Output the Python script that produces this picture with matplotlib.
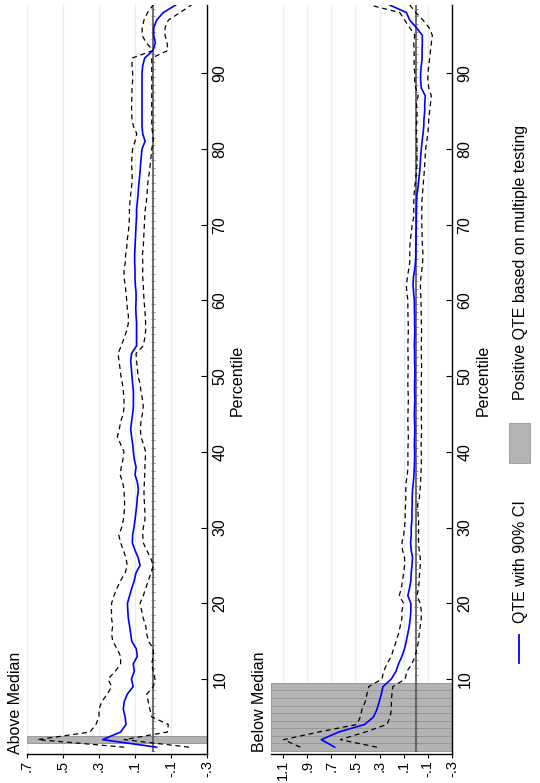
import matplotlib.pyplot as plt

plt.rcParams['font.family'] = ['Liberation Sans', 'DejaVu Sans']

# percentiles 1..99
pct = list(range(1, 100))

# Above median: QTE and 90% CI
qte_above = [-0.02, 0.28, 0.18, 0.15, 0.155, 0.165, 0.16, 0.143, 0.11, 0.12,
             0.104, 0.11, 0.087, 0.093, 0.118, 0.124, 0.13, 0.137, 0.14, 0.142,
             0.13, 0.118, 0.104, 0.095, 0.072, 0.082, 0.10, 0.115, 0.113, 0.106,
             0.10, 0.095, 0.09, 0.087, 0.081, 0.087, 0.10, 0.094, 0.104, 0.109,
             0.113, 0.119, 0.124, 0.119, 0.113, 0.109, 0.109, 0.109, 0.113, 0.117,
             0.12, 0.124, 0.119, 0.091, 0.091, 0.091, 0.091, 0.094, 0.096, 0.094,
             0.094, 0.098, 0.10, 0.10, 0.102, 0.102, 0.10, 0.098, 0.096, 0.094,
             0.091, 0.091, 0.087, 0.083, 0.080, 0.076, 0.072, 0.069, 0.065, 0.061,
             0.044, 0.057, 0.061, 0.061, 0.061, 0.061, 0.061, 0.061, 0.061, 0.061,
             0.057, 0.046, 0.0, -0.013, -0.004, -0.004, -0.02, -0.057, -0.126]
hi_above = [0.16, 0.64, 0.35, 0.317, 0.30, 0.30, 0.285, 0.254, 0.23, 0.25,
            0.21, 0.18, 0.18, 0.20, 0.224, 0.23, 0.224, 0.23, 0.231, 0.23,
            0.217, 0.20, 0.18, 0.155, 0.143, 0.15, 0.165, 0.18, 0.19, 0.174,
            0.165, 0.16, 0.158, 0.159, 0.161, 0.169, 0.183, 0.176, 0.167, 0.161,
            0.18, 0.198, 0.187, 0.18, 0.165, 0.161, 0.161, 0.165, 0.17, 0.178,
            0.183, 0.189, 0.194, 0.176, 0.161, 0.146, 0.137, 0.137, 0.143, 0.146,
            0.15, 0.154, 0.161, 0.161, 0.154, 0.152, 0.146, 0.143, 0.137, 0.133,
            0.131, 0.131, 0.128, 0.124, 0.119, 0.115, 0.117, 0.119, 0.117, 0.113,
            0.10, 0.09, 0.109, 0.117, 0.119, 0.119, 0.117, 0.117, 0.113, 0.113,
            0.117, 0.115, 0.0, 0.037, 0.061, 0.06, 0.05, 0.03, 0.0]
lo_above = [-0.2, 0.16, -0.08, -0.085, 0.007, 0.017, 0.026, 0.035, -0.002, -0.011,
            -0.002, 0.007, -0.002, -0.002, 0.026, 0.035, 0.04, 0.054, 0.063, 0.072,
            0.054, 0.04, 0.026, 0.011, -0.002, 0.013, 0.035, 0.054, 0.057, 0.054,
            0.045, 0.045, 0.047, 0.05, 0.05, 0.048, 0.046, 0.045, 0.043, 0.041,
            0.053, 0.067, 0.07, 0.067, 0.059, 0.054, 0.059, 0.067, 0.072, 0.083,
            0.087, 0.091, 0.094, 0.054, 0.046, 0.041, 0.041, 0.043, 0.046, 0.05,
            0.052, 0.054, 0.057, 0.057, 0.057, 0.059, 0.054, 0.052, 0.05, 0.048,
            0.046, 0.043, 0.037, 0.033, 0.031, 0.026, 0.02, 0.015, 0.011, 0.007,
            -0.002, 0.002, 0.007, 0.007, 0.007, 0.007, 0.007, 0.007, 0.007, 0.007,
            0.007, 0.007, -0.083, -0.078, -0.067, -0.067, -0.085, -0.15, -0.213]
sig_above = [2]

# Below median: QTE and 90% CI
qte_below = [0.672, 0.783, 0.639, 0.424, 0.35, 0.322, 0.303, 0.286, 0.272, 0.203,
             0.165, 0.143, 0.115, 0.093, 0.079, 0.066, 0.054, 0.046, 0.041, 0.041,
             0.066, 0.052, 0.041, 0.038, 0.032, 0.027, 0.038, 0.043, 0.038, 0.038,
             0.032, 0.032, 0.03, 0.03, 0.027, 0.02, 0.015, 0.012, 0.01, 0.01,
             0.012, 0.01, 0.008, 0.01, 0.012, 0.01, 0.008, 0.01, 0.01, 0.008,
             0.008, 0.01, 0.01, 0.012, 0.01, 0.008, 0.01, 0.01, 0.012, 0.012,
             0.018, 0.023, 0.02, 0.01, 0.003, 0.0, 0.0, -0.002, -0.002, -0.004,
             -0.004, -0.005, -0.006, -0.01, -0.019, -0.025, -0.032, -0.037, -0.04, -0.046,
             -0.052, -0.06, -0.066, -0.068, -0.074, -0.074, -0.079, -0.046, -0.04, -0.04,
             -0.046, -0.052, -0.052, -0.054, -0.054, -0.005, 0.05, 0.078, 0.216]
hi_below = [0.957, 1.095, 0.805, 0.488, 0.46, 0.446, 0.419, 0.405, 0.39, 0.28,
            0.267, 0.239, 0.203, 0.184, 0.162, 0.143, 0.129, 0.115, 0.115, 0.101,
            0.137, 0.12, 0.11, 0.101, 0.093, 0.093, 0.11, 0.115, 0.101, 0.093,
            0.088, 0.088, 0.085, 0.083, 0.083, 0.08, 0.07, 0.065, 0.065, 0.066,
            0.064, 0.062, 0.064, 0.066, 0.065, 0.063, 0.062, 0.064, 0.066, 0.065,
            0.064, 0.063, 0.065, 0.066, 0.064, 0.062, 0.063, 0.065, 0.066, 0.065,
            0.075, 0.078, 0.07, 0.06, 0.05, 0.05, 0.05, 0.045, 0.037, 0.03,
            0.017, 0.017, 0.017, 0.014, 0.009, 0.0, -0.005, -0.01, -0.01, -0.01,
            -0.01, -0.005, -0.005, -0.01, -0.01, -0.005, -0.019, 0.0, 0.009, 0.009,
            0.014, 0.014, 0.014, 0.017, 0.009, 0.05, 0.092, 0.133, 0.381]
lo_below = [0.322, 0.626, 0.419, 0.239, 0.212, 0.203, 0.203, 0.198, 0.19, 0.088,
            0.074, 0.033, 0.005, -0.009, -0.023, -0.028, -0.037, -0.045, -0.045, -0.037,
            -0.009, -0.023, -0.028, -0.031, -0.037, -0.037, -0.028, -0.023, -0.023, -0.023,
            -0.023, -0.018, -0.015, -0.03, -0.035, -0.04, -0.042, -0.045, -0.046, -0.045,
            -0.044, -0.046, -0.048, -0.046, -0.045, -0.047, -0.048, -0.046, -0.045, -0.046,
            -0.048, -0.047, -0.046, -0.045, -0.047, -0.048, -0.046, -0.045, -0.044, -0.043,
            -0.04, -0.038, -0.042, -0.05, -0.056, -0.06, -0.055, -0.053, -0.052, -0.05,
            -0.05, -0.05, -0.05, -0.055, -0.06, -0.065, -0.07, -0.074, -0.078, -0.082,
            -0.09, -0.1, -0.104, -0.108, -0.115, -0.122, -0.129, -0.108, -0.1, -0.1,
            -0.108, -0.115, -0.122, -0.129, -0.137, -0.11, -0.06, 0.0, 0.05]
sig_below = [1, 2, 3, 4, 5, 6, 7, 8, 9]

ticks_above = [0.7, 0.5, 0.3, 0.1, -0.1, -0.3]
labels_above = ['.7', '.5', '.3', '.1', '-.1', '-.3']
ticks_below = [1.1, 0.9, 0.7, 0.5, 0.3, 0.1, -0.1, -0.3]
labels_below = ['1.1', '.9', '.7', '.5', '.3', '.1', '-.1', '-.3']
pct_ticks = [10, 20, 30, 40, 50, 60, 70, 80, 90]

W, H = 540, 783
FS = 11.5
TFS = 10.5
fig = plt.figure(figsize=(W / 100, H / 100), dpi=100)


def rect(x0, y0, x1, y1):
    # pixel box (top-left origin) -> figure fraction
    return [x0 / W, 1 - y1 / H, (x1 - x0) / W, (y1 - y0) / H]


def panel(box, qte, hi, lo, sig, xmax, ticks, labels):
    ax = fig.add_axes(rect(*box))
    ax.set_xlim(xmax, -0.3)
    ax.set_ylim(0.1, 99)
    for t in ticks[:-1]:
        ax.axvline(t, color='#e6eeee', lw=0.9, zorder=0)
    ax.barh(sig, xmax + 0.3, left=-0.3, height=1, color='#b3b3b3',
            edgecolor='#989898', lw=0.7, zorder=1)
    ax.plot([0, 0], [0.5, 99.5], color='#555555', lw=1.2, zorder=2)
    ax.plot([0] * 100, [p - 0.5 for p in range(1, 101)], ls='none', marker='_',
            ms=3, mew=0.5, color='#666666', zorder=2)
    ax.plot(hi, pct, color='black', lw=0.9, ls=(0, (4, 3)), zorder=3)
    ax.plot(lo, pct, color='black', lw=0.9, ls=(0, (4, 3)), zorder=3)
    ax.plot(qte, pct, color='#0000ff', lw=1.2, zorder=4)

    ax.spines['top'].set_visible(False)
    ax.spines['left'].set_visible(False)
    ax.spines['right'].set_linewidth(1.0)
    ax.spines['bottom'].set_linewidth(1.0)
    ax.set_xticks(ticks)
    ax.set_xticklabels(labels, rotation=90, fontsize=TFS)
    ax.yaxis.tick_right()
    ax.set_yticks(pct_ticks)
    ax.set_yticklabels([str(p) for p in pct_ticks], rotation=90, va='center', fontsize=FS)
    ax.tick_params(axis='x', length=3, width=0.8, pad=1.5)
    ax.tick_params(axis='y', direction='in', length=4, width=0.8, pad=4)
    return ax


panel((27, 5, 207, 754), qte_above, hi_above, lo_above, sig_above, 0.7,
      ticks_above, labels_above)
panel((271, 5, 452, 754), qte_below, hi_below, lo_below, sig_below, 1.2,
      ticks_below, labels_below)

# panel titles and axis titles (rotated like the whole chart)
fig.text(16 / W, 1 - 754 / H, 'Above Median', rotation=90, ha='center', va='bottom', fontsize=FS)
fig.text(259 / W, 1 - 752 / H, 'Below Median', rotation=90, ha='center', va='bottom', fontsize=FS)
fig.text(237 / W, 1 - 380 / H, 'Percentile', rotation=90, ha='center', va='center', fontsize=FS)
fig.text(483 / W, 1 - 380 / H, 'Percentile', rotation=90, ha='center', va='center', fontsize=FS)

# legend
fig.add_artist(plt.Line2D([519 / W, 519 / W], [1 - 663 / H, 1 - 635 / H], color='#0000ff', lw=1.3))
fig.text(520 / W, 1 - 623 / H, 'QTE with 90% CI', rotation=90, ha='center', va='bottom', fontsize=FS)
fig.add_artist(plt.Rectangle((509 / W, 1 - 463 / H), 21 / W, 40 / H, facecolor='#b3b3b3',
                             edgecolor='#a0a0a0', lw=0.7))
fig.text(520 / W, 1 - 400 / H, 'Positive QTE based on multiple testing', rotation=90,
         ha='center', va='bottom', fontsize=FS)

fig.savefig('out.png', dpi=100)
